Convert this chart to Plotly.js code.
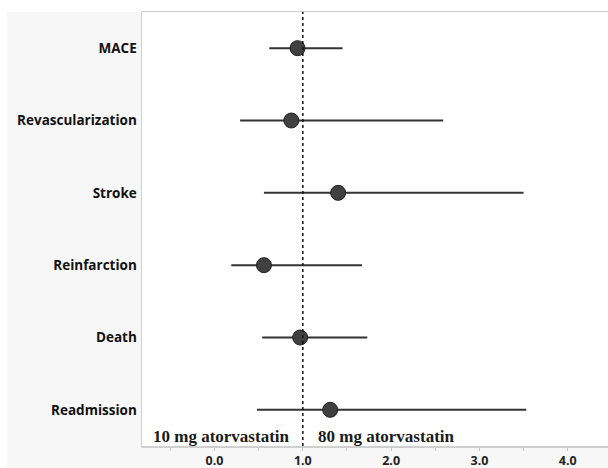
<!DOCTYPE html>
<html>
<head>
<meta charset="utf-8">
<script src="https://cdn.plot.ly/plotly-3.0.1.min.js"></script>
<style>html,body{margin:0;padding:0;background:#fff;}#chart{width:608px;height:468px;}</style>
</head>
<body>
<div id="chart"></div>
<script>
var outcomes = ["MACE", "Revascularization", "Stroke", "Reinfarction", "Death", "Readmission"];
var estimate = [0.94, 0.87, 1.40, 0.56, 0.97, 1.31];
var lower    = [0.62, 0.29, 0.56, 0.19, 0.54, 0.48];
var upper    = [1.45, 2.59, 3.50, 1.67, 1.73, 3.53];
var xTickVals = [0, 1, 2, 3, 4];
var xTickText = ["0.0", "1.0", "2.0", "3.0", "4.0"];
var refLine = 1;
var groupLabels = ["10 mg atorvastatin", "80 mg atorvastatin"];

var plusErr = estimate.map(function (v, i) { return upper[i] - v; });
var minusErr = estimate.map(function (v, i) { return v - lower[i]; });

var trace = {
  type: "scatter",
  mode: "markers",
  x: estimate,
  y: outcomes,
  marker: { size: 15, color: "#404040", line: { color: "#1f1f1f", width: 1 } },
  error_x: {
    type: "data", symmetric: false, array: plusErr, arrayminus: minusErr,
    width: 0, thickness: 2, color: "#333333"
  },
  hoverinfo: "x+y",
  showlegend: false
};

var layout = {
  width: 608, height: 468,
  margin: { l: 142, r: 0, t: 12, b: 22, pad: 0 },
  paper_bgcolor: "#f7f7f7",
  plot_bgcolor: "#ffffff",
  showlegend: false,
  xaxis: {
    range: [-0.821, 4.456],
    tickmode: "array", tickvals: xTickVals, ticktext: xTickText,
    ticks: "outside", ticklen: 3, tickcolor: "#c8c8c8", tickwidth: 1,
    minor: { dtick: 0.5, tick0: 0, ticks: "outside", ticklen: 3, tickcolor: "#c8c8c8", showgrid: false },
    showgrid: false, zeroline: false,
    showline: true, linecolor: "#cfcfcf", linewidth: 1.5, mirror: true,
    ticklabelstandoff: -1,
    tickfont: { family: "Open Sans", size: 12.5, color: "#222222", weight: "bold" }
  },
  yaxis: {
    type: "category",
    categoryorder: "array", categoryarray: outcomes,
    range: [5.5, -0.5],
    showgrid: false, zeroline: false, ticks: "",
    showline: true, linecolor: "#cfcfcf", linewidth: 1.5,
    ticklabelstandoff: 1,
    tickfont: { family: "Open Sans", size: 13.5, color: "#111111", weight: "bold" }
  },
  shapes: [
    { type: "line", xref: "x", yref: "paper", x0: refLine, x1: refLine, y0: 0, y1: 1,
      line: { color: "#111111", width: 1.5, dash: "dot" }, layer: "above" },
    { type: "rect", xref: "paper", yref: "paper", x0: -0.31, x1: -0.2897, y0: -0.06, y1: 1.03,
      fillcolor: "#ffffff", line: { width: 0 }, layer: "below" },
    { type: "rect", xref: "paper", yref: "paper", x0: -0.31, x1: 1.01, y0: 1.0, y1: 1.03,
      fillcolor: "#ffffff", line: { width: 0 }, layer: "below" }
  ],
  annotations: [
    { xref: "x", yref: "paper", x: 0.88, y: 0.022, xanchor: "right", yanchor: "middle",
      text: groupLabels[0], showarrow: false,
      font: { family: "Liberation Serif", size: 17, color: "#1a1a1a", weight: "bold" } },
    { xref: "x", yref: "paper", x: 1.145, y: 0.022, xanchor: "left", yanchor: "middle",
      text: groupLabels[1], showarrow: false,
      font: { family: "Liberation Serif", size: 17, color: "#1a1a1a", weight: "bold" } }
  ]
};

Plotly.newPlot("chart", [trace], layout, { displayModeBar: false, staticPlot: true });
</script>
</body>
</html>
